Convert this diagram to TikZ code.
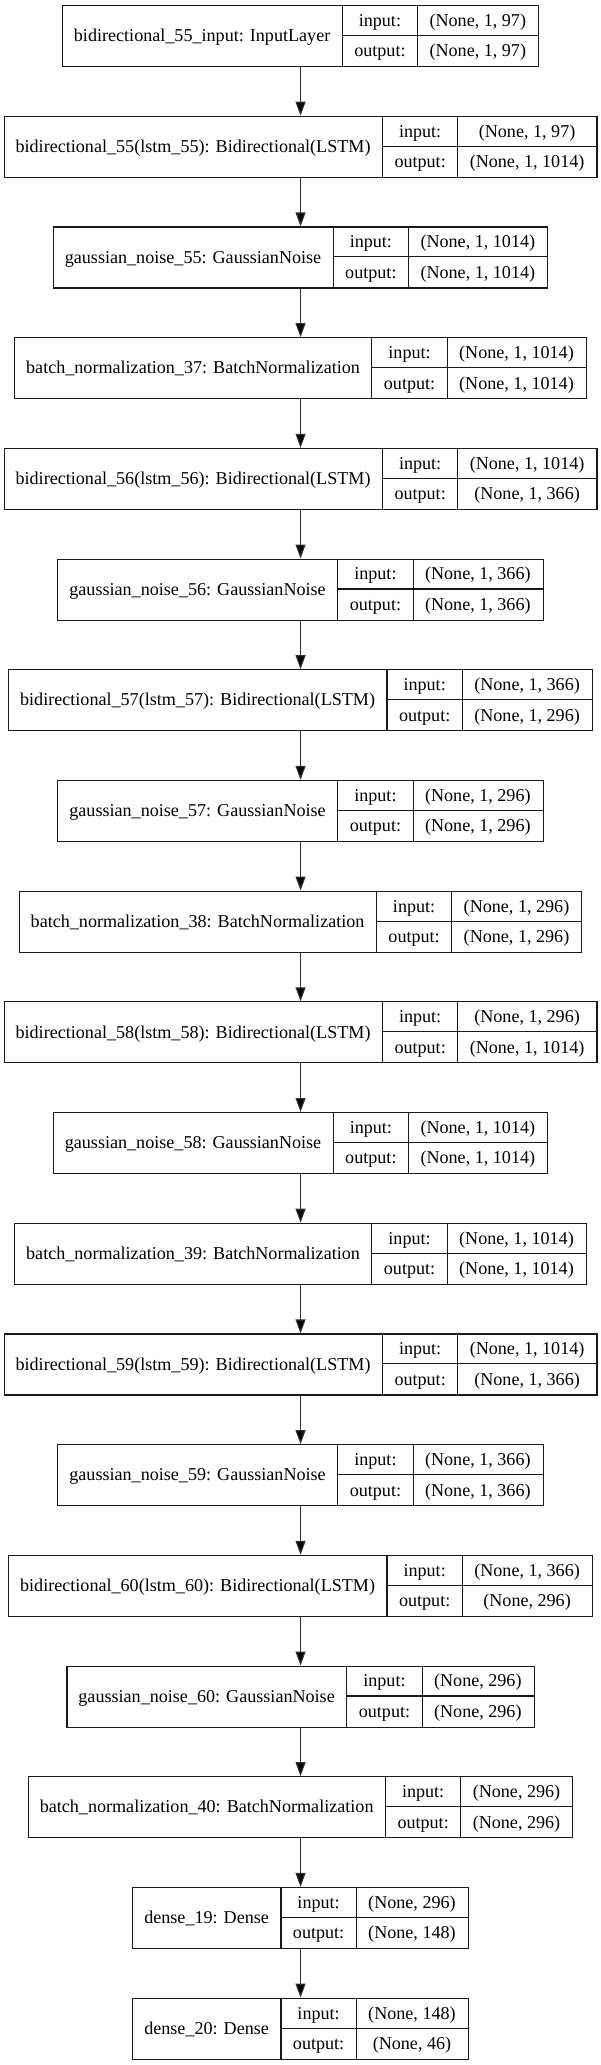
\documentclass[tikz,border=0pt]{standalone}
\usepackage{fontspec}
\setmainfont{Liberation Serif}
\usetikzlibrary{arrows.meta}
\newcommand\lfont{\fontsize{18.1}{21}\selectfont}
\newlength\LWa \newlength\LWb \newlength\LWc \newlength\LWd
\tikzset{
  boxline/.style={draw=black!90, line width=1.1pt},
  txt/.style={inner sep=0pt, font=\lfont, anchor=base},
  arr/.style={draw=black!80, line width=1.1pt, -{Triangle[length=14pt,width=10pt,fill=black]}},
}
\newcommand\layer[5]{%
  \pgfinterruptpicture
    \settowidth\LWa{\lfont #3}\global\LWa=\LWa
    \settowidth\LWb{\lfont output:}\global\LWb=\LWb
    \settowidth\LWc{\lfont #4}\global\LWc=\LWc
    \settowidth\LWd{\lfont #5}\global\LWd=\LWd
  \endpgfinterruptpicture
  \addtolength\LWa{24pt}%
  \addtolength\LWb{24pt}%
  \ifdim\LWd>\LWc \LWc=\LWd\fi
  \addtolength\LWc{24pt}%
  \pgfmathsetmacro\tot{\LWa+\LWb+\LWc}%
  \pgfmathsetmacro\xl{300-\tot/2}%
  \pgfmathsetmacro\xa{\xl+\LWa}%
  \pgfmathsetmacro\xb{\xa+\LWb}%
  \pgfmathsetmacro\xr{\xl+\tot}%
  \pgfmathsetmacro\yt{-5-(#2-1)*110.7}%
  \pgfmathsetmacro\ym{\yt-30.5}%
  \pgfmathsetmacro\yb{\yt-61}%
  \pgfmathsetmacro\xlc{(\xl+\xa)/2}%
  \pgfmathsetmacro\xbc{(\xa+\xb)/2}%
  \pgfmathsetmacro\xcc{(\xb+\xr)/2}%
  \pgfmathsetmacro\ylb{\ym-6.2}%
  \pgfmathsetmacro\yib{\yt-15.25-6.2}%
  \pgfmathsetmacro\yob{\yt-45.75-6.2}%
  \node[boxline, inner sep=0pt, minimum width=\tot pt, minimum height=61pt, anchor=north west] (#1) at (\xl pt,\yt pt) {};
  \draw[boxline] (\xa pt,\yt pt) -- (\xa pt,\yb pt);
  \draw[boxline] (\xb pt,\yt pt) -- (\xb pt,\yb pt);
  \draw[boxline] (\xa pt,\ym pt) -- (\xr pt,\ym pt);
  \node[txt] (#1l) at (\xlc pt,\ylb pt) {#3};
  \node[txt] (#1i) at (\xbc pt,\yib pt) {input:};
  \node[txt] (#1o) at (\xbc pt,\yob pt) {output:};
  \node[txt] (#1vi) at (\xcc pt,\yib pt) {#4};
  \node[txt] (#1vo) at (\xcc pt,\yob pt) {#5};
}
\begin{document}
\begin{tikzpicture}[x=1pt,y=1pt]
\fill[white] (0,0) rectangle (600,-2065);
\useasboundingbox (0,0) rectangle (600,-2065);
\layer{n1}{1}{bidirectional\_55\_input: InputLayer}{(None, 1, 97)}{(None, 1, 97)}
\layer{n2}{2}{bidirectional\_55(lstm\_55): Bidirectional(LSTM)}{(None, 1, 97)}{(None, 1, 1014)}
\layer{n3}{3}{gaussian\_noise\_55: GaussianNoise}{(None, 1, 1014)}{(None, 1, 1014)}
\layer{n4}{4}{batch\_normalization\_37: BatchNormalization}{(None, 1, 1014)}{(None, 1, 1014)}
\layer{n5}{5}{bidirectional\_56(lstm\_56): Bidirectional(LSTM)}{(None, 1, 1014)}{(None, 1, 366)}
\layer{n6}{6}{gaussian\_noise\_56: GaussianNoise}{(None, 1, 366)}{(None, 1, 366)}
\layer{n7}{7}{bidirectional\_57(lstm\_57): Bidirectional(LSTM)}{(None, 1, 366)}{(None, 1, 296)}
\layer{n8}{8}{gaussian\_noise\_57: GaussianNoise}{(None, 1, 296)}{(None, 1, 296)}
\layer{n9}{9}{batch\_normalization\_38: BatchNormalization}{(None, 1, 296)}{(None, 1, 296)}
\layer{n10}{10}{bidirectional\_58(lstm\_58): Bidirectional(LSTM)}{(None, 1, 296)}{(None, 1, 1014)}
\layer{n11}{11}{gaussian\_noise\_58: GaussianNoise}{(None, 1, 1014)}{(None, 1, 1014)}
\layer{n12}{12}{batch\_normalization\_39: BatchNormalization}{(None, 1, 1014)}{(None, 1, 1014)}
\layer{n13}{13}{bidirectional\_59(lstm\_59): Bidirectional(LSTM)}{(None, 1, 1014)}{(None, 1, 366)}
\layer{n14}{14}{gaussian\_noise\_59: GaussianNoise}{(None, 1, 366)}{(None, 1, 366)}
\layer{n15}{15}{bidirectional\_60(lstm\_60): Bidirectional(LSTM)}{(None, 1, 366)}{(None, 296)}
\layer{n16}{16}{gaussian\_noise\_60: GaussianNoise}{(None, 296)}{(None, 296)}
\layer{n17}{17}{batch\_normalization\_40: BatchNormalization}{(None, 296)}{(None, 296)}
\layer{n18}{18}{dense\_19: Dense}{(None, 296)}{(None, 148)}
\layer{n19}{19}{dense\_20: Dense}{(None, 148)}{(None, 46)}
\foreach \a/\b in {n1/n2,n2/n3,n3/n4,n4/n5,n5/n6,n6/n7,n7/n8,n8/n9,n9/n10,n10/n11,n11/n12,n12/n13,n13/n14,n14/n15,n15/n16,n16/n17,n17/n18,n18/n19}
  \draw[arr] (\a.south) -- (\b.north);
\end{tikzpicture}
\end{document}
